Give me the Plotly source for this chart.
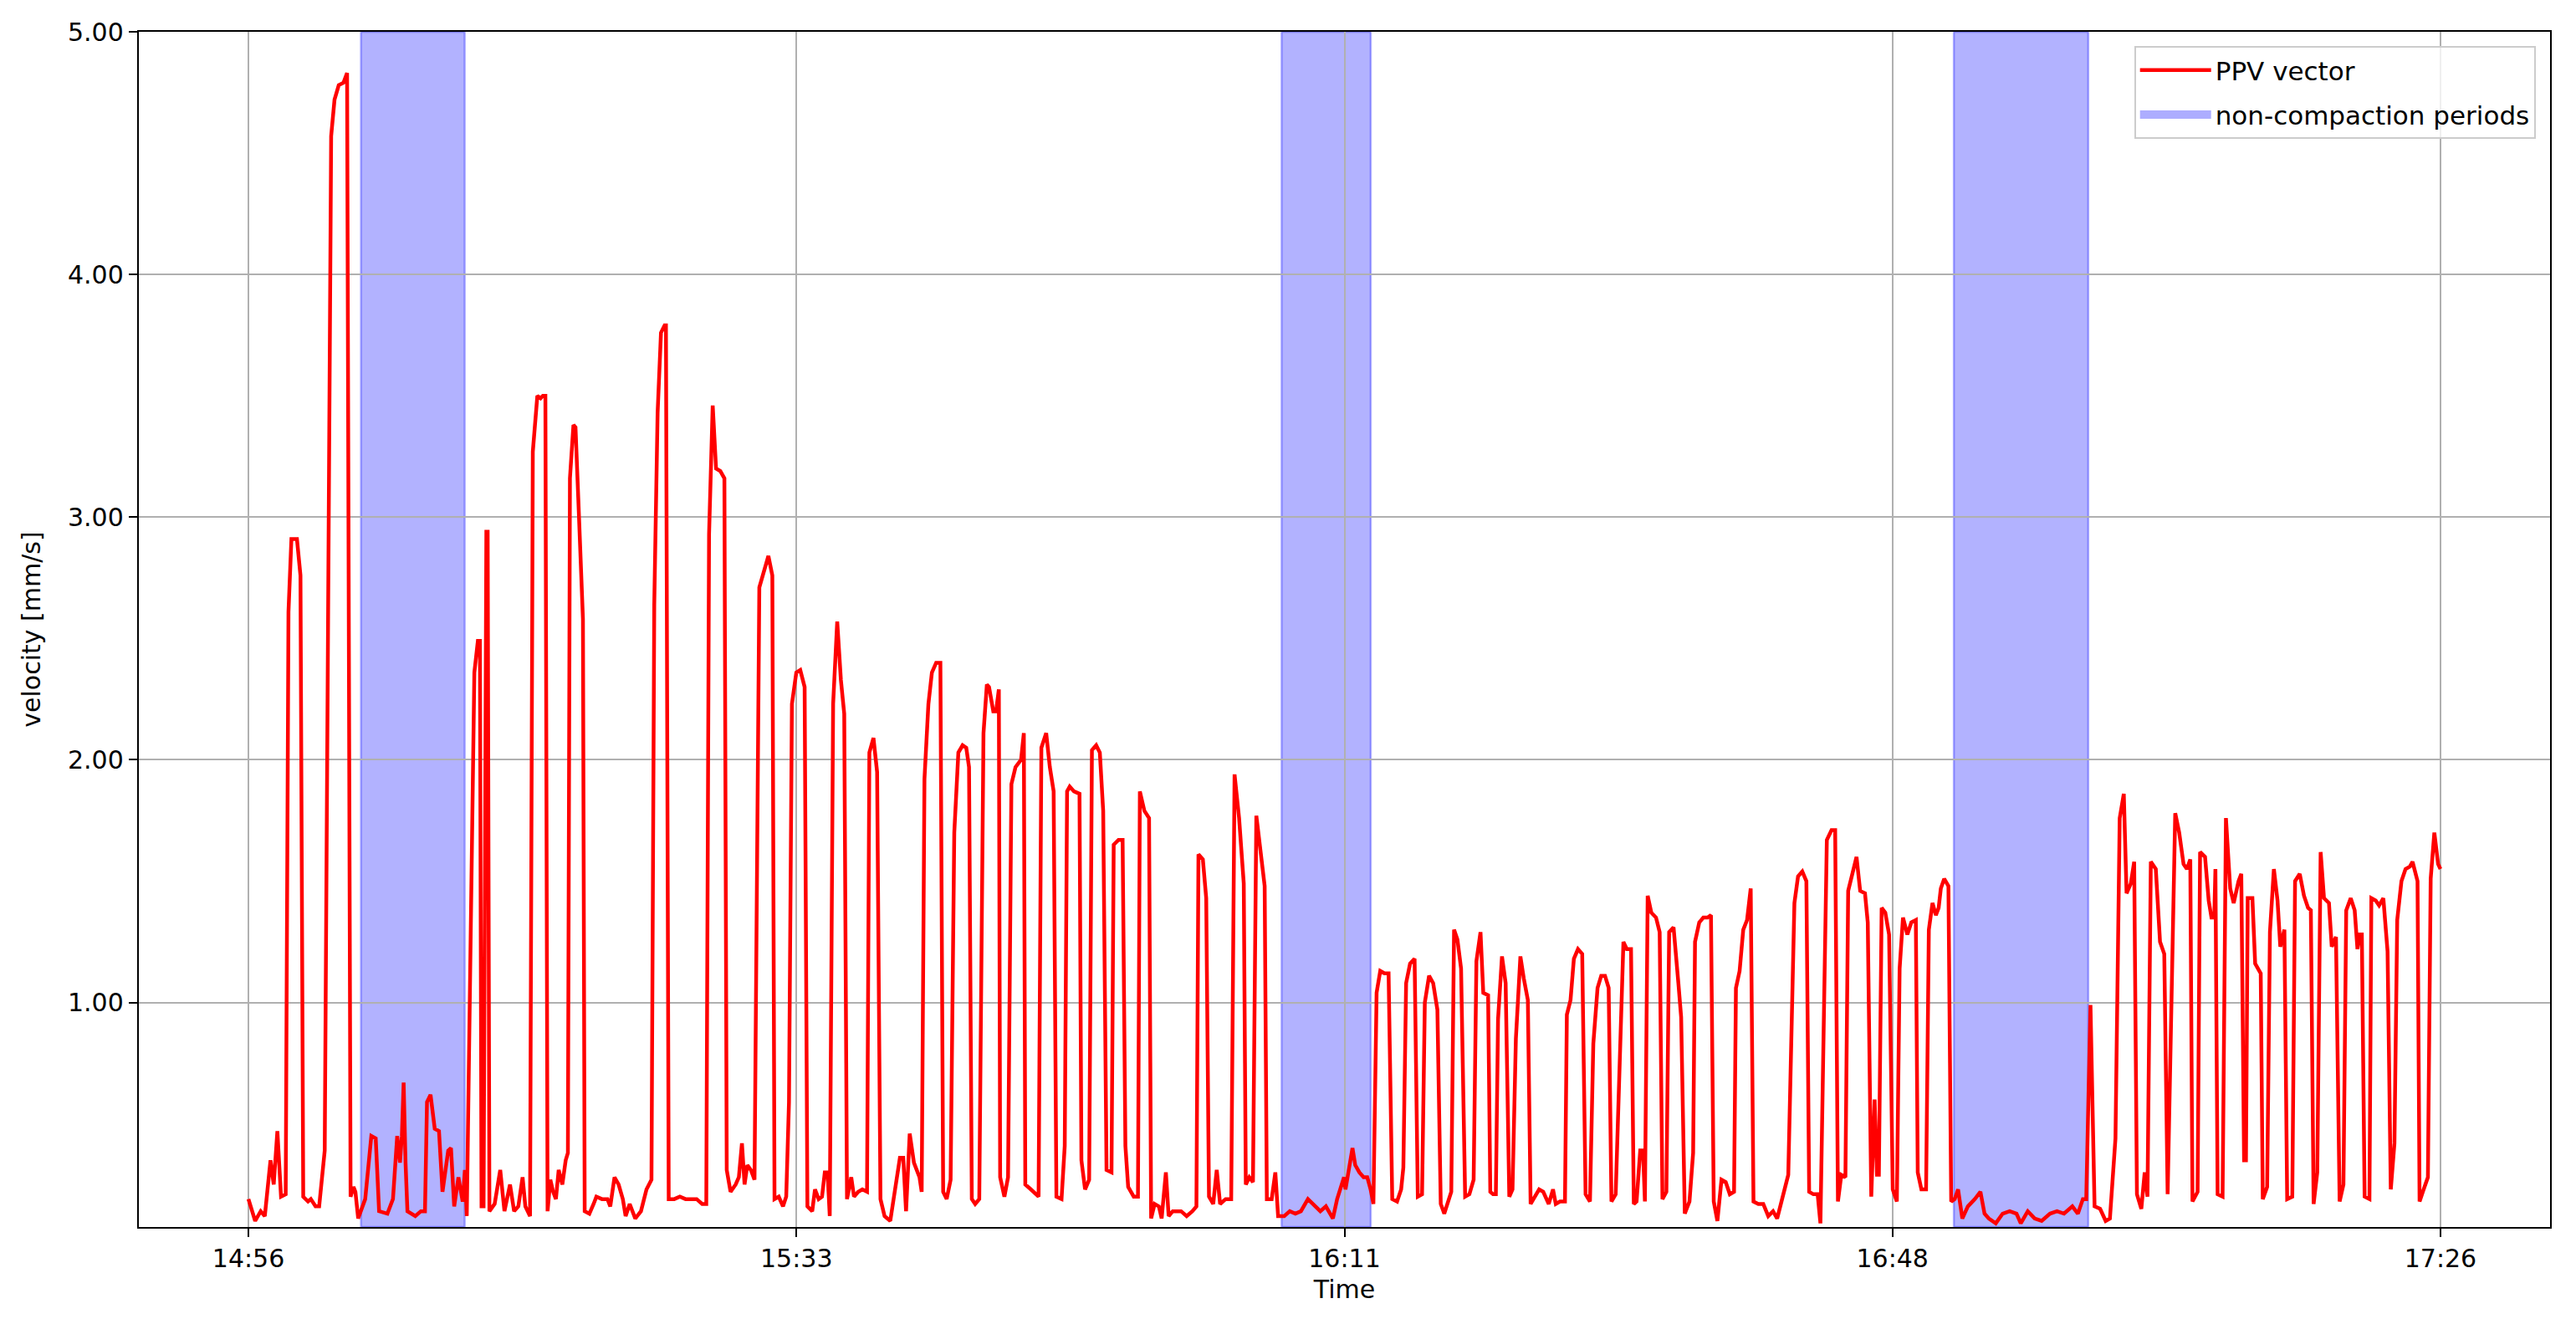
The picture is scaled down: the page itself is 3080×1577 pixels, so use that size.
import pandas as pd
import plotly.graph_objects as go

# ---------------- data (minutes after 14:56, PPV in mm/s) ----------------
START = pd.Timestamp("2023-01-01 14:56:00")

minutes = [
    0.00, 0.46, 0.84, 1.12, 1.51, 1.73, 1.98, 2.23, 2.55, 2.74, 2.94, 3.32, 3.56, 3.75, 4.08, 4.27, 4.59, 4.84, 5.22,
    5.66, 5.89, 6.18, 6.50, 6.75, 6.99, 7.19, 7.32, 7.51, 7.99, 8.41, 8.71, 8.94, 9.51, 9.89, 10.18, 10.37, 10.50,
    10.62, 10.75, 10.88, 11.42, 11.80, 12.08, 12.22, 12.46, 12.75, 13.04, 13.28, 13.67, 13.86, 14.08, 14.37, 14.66,
    14.81, 14.94, 15.23, 15.46, 15.70, 15.84, 15.95, 16.09, 16.28, 16.37, 16.49, 16.85, 17.23, 17.52, 17.90, 18.18,
    18.47, 18.76, 18.95, 19.27, 19.46, 19.77, 19.99, 20.15, 20.32, 20.47, 20.66, 20.85, 21.04, 21.23, 21.48, 21.71,
    21.86, 22.00, 22.24, 22.38, 22.57, 22.76, 22.89, 23.01, 23.33, 23.62, 23.81, 24.19, 24.57, 24.76, 25.05, 25.33,
    25.62, 25.81, 26.09, 26.47, 26.86, 27.24, 27.58, 27.77, 28.00, 28.23, 28.48, 28.57, 28.76, 29.14, 29.52, 29.91,
    30.29, 30.67, 31.05, 31.33, 31.52, 31.77, 32.00, 32.29, 32.57, 32.73, 32.99, 33.34, 33.56, 33.77, 33.95, 34.14,
    34.38, 34.63, 34.96, 35.24, 35.58, 35.85, 36.00, 36.29, 36.58, 36.80, 36.99, 37.19,
    37.49, 37.76, 38.06, 38.25, 38.58, 38.77, 39.02, 39.25, 39.44, 39.63, 39.78, 40.01, 40.29, 40.54, 40.77, 40.96,
    41.25, 41.44, 41.72, 42.01, 42.33, 42.49, 42.77, 43.02, 43.25, 43.53, 43.92, 44.30, 44.58, 44.81, 45.00, 45.25,
    45.54, 45.92, 46.07, 46.26, 46.53, 46.77, 47.06, 47.35, 47.54, 47.78, 48.05, 48.30, 48.58, 48.87, 49.12, 49.31,
    49.50, 49.73, 50.01, 50.30, 50.53, 50.68, 50.97, 51.16, 51.35, 51.44, 51.73, 51.98, 52.21, 52.49, 52.87, 53.06,
    53.16, 53.54, 54.07, 54.26, 54.59, 54.84, 55.10, 55.29, 55.64, 55.86, 56.02,
    56.20, 56.49, 56.87, 57.00, 57.25, 57.53, 57.72, 58.01, 58.26, 58.49, 58.72, 59.06, 59.21, 59.54, 59.82, 60.01,
    60.20, 60.58, 60.87, 61.00, 61.31, 61.63, 61.77, 62.01, 62.30, 62.49, 62.78, 62.97, 63.25, 63.82, 64.20, 64.59,
    64.87, 65.01, 65.31, 65.54, 65.73, 66.02, 66.26, 66.49, 66.87, 67.25, 67.48, 67.79, 68.11, 68.25, 68.49, 68.74,
    68.97, 69.22, 69.54, 69.69, 70.02, 70.27, 70.46, 70.88, 71.26, 71.64, 72.02, 72.50, 72.97, 73.35, 73.73, 74.21,
    74.50, 74.97,
    75.07, 75.26, 75.55, 75.74, 76.02, 76.31, 76.56, 76.79, 76.98, 77.20, 77.45, 77.74, 78.02, 78.27, 78.60, 78.88,
    79.03, 79.22, 79.49, 79.80, 80.02, 80.31, 80.50, 80.79, 81.07, 81.36, 81.59, 81.83, 82.12, 82.31, 82.50, 82.73,
    82.98, 83.26, 83.55, 83.84, 84.03, 84.31, 84.50, 84.83, 84.98, 85.17, 85.36, 85.51, 85.78, 86.03, 86.28, 86.50,
    86.73, 87.04, 87.27, 87.55, 87.74, 88.03, 88.32, 88.60, 88.98, 89.27, 89.46, 89.75, 90.09, 90.22, 90.47, 90.70,
    90.98, 91.27, 91.50, 91.80, 92.03, 92.32, 92.57, 92.83, 93.08, 93.27, 93.56,
    94.09, 94.32, 94.61, 94.80, 94.99, 95.24, 95.43, 95.56, 95.75, 96.00, 96.32, 96.57, 96.76, 97.03, 97.22, 97.52,
    97.85, 98.04, 98.29, 98.61, 98.86, 98.99, 99.28, 99.56, 99.85, 100.08, 100.27, 100.52, 100.80, 101.09, 101.37,
    101.66, 101.79, 102.04, 102.29, 102.55, 102.80, 102.99, 103.32, 103.66, 104.00, 104.33, 104.61, 104.90, 105.37,
    105.79, 106.04, 106.33, 106.61, 106.80, 107.09, 107.38, 107.57, 108.01, 108.33, 108.58, 108.77, 109.00, 109.28,
    109.47, 109.76, 110.04, 110.29, 110.62, 110.81, 111.05, 111.28, 111.44, 111.57, 111.76, 112.01, 112.27, 112.52,
    112.80, 112.99, 113.22, 113.52, 113.79, 114.10, 114.23, 114.48, 114.80, 114.99, 115.24, 115.47, 115.66, 115.81,
    116.04, 116.33, 116.52, 116.76, 116.99, 117.28, 117.66, 118.14, 118.52, 118.80, 119.09, 119.57, 120.04, 120.52,
    120.99, 121.28, 121.76, 122.23, 122.71, 123.28, 123.76, 124.24, 124.81, 125.19, 125.53, 125.76, 126.05, 126.33,
    126.71, 127.09, 127.38, 127.76, 128.05, 128.33, 128.52, 128.81, 129.04, 129.23, 129.53, 129.76, 129.95, 130.18,
    130.52, 130.81, 131.10, 131.33,
    131.85, 132.12, 132.42, 132.65, 132.88, 133.03, 133.38, 133.55, 133.89, 134.14, 134.33, 134.52, 134.60, 134.75,
    135.09, 135.32, 135.61, 135.85, 136.18, 136.37, 136.56, 136.69, 136.81, 137.13, 137.32, 137.70, 137.84, 138.14,
    138.33, 138.60, 138.85, 139.04, 139.32, 139.51, 139.86, 140.05, 140.37, 140.66, 140.94, 141.13, 141.32, 141.57,
    141.80, 142.03, 142.37, 142.56, 142.85, 143.10, 143.36, 143.55, 143.86, 144.13, 144.32, 144.47, 144.62, 144.81,
    145.14, 145.27, 145.57, 145.80, 146.09, 146.38, 146.60, 146.85, 147.04, 147.33, 147.61, 147.90, 148.09, 148.43,
    148.57, 148.85, 149.14, 149.33, 149.58, 149.84, 150.00,
]

ppv = [
    0.19, 0.10, 0.14, 0.12, 0.35, 0.25, 0.47, 0.20, 0.21, 2.61, 2.91, 2.91, 2.76, 0.20, 0.18, 0.19, 0.16, 0.16, 0.39,
    4.57, 4.72, 4.78, 4.79, 4.83, 0.20, 0.24, 0.22, 0.11, 0.19, 0.45, 0.44, 0.14, 0.13, 0.19, 0.45, 0.34, 0.45,
    0.67, 0.34, 0.14, 0.12, 0.14, 0.14, 0.59, 0.62, 0.48, 0.47, 0.22, 0.39, 0.40, 0.16, 0.28, 0.18,
    0.31, 0.12, 1.42, 2.36, 2.49, 2.49, 0.16, 0.16, 2.94, 2.94, 0.14, 0.17, 0.31, 0.14, 0.25, 0.14,
    0.16, 0.28, 0.16, 0.12, 3.27, 3.50, 3.49, 3.50, 3.50, 0.14, 0.27, 0.22, 0.19, 0.31, 0.25, 0.35,
    0.38, 3.16, 3.38, 3.37, 3.08, 2.80, 2.58, 0.14, 0.13, 0.17, 0.20, 0.19, 0.19, 0.16, 0.28, 0.25,
    0.19, 0.12, 0.17, 0.11, 0.14, 0.23, 0.27, 2.64, 3.43, 3.76, 3.79, 3.79, 0.19, 0.19, 0.20, 0.19,
    0.19, 0.19, 0.17, 0.17, 2.93, 3.46, 3.20, 3.19, 3.16, 0.31, 0.22, 0.25, 0.28, 0.42, 0.25, 0.33,
    0.31, 0.27, 2.71, 2.77, 2.84, 2.76, 0.19, 0.20, 0.16, 0.20, 0.59, 2.23,
    2.36, 2.37, 2.30, 0.16, 0.14, 0.23, 0.19, 0.20, 0.30, 0.30, 0.12, 2.23, 2.57, 2.33, 2.19, 0.19,
    0.28, 0.20, 0.22, 0.23, 0.22, 2.03, 2.09, 1.95, 0.19, 0.12, 0.10, 0.25, 0.36, 0.36, 0.14, 0.46,
    0.34, 0.28, 0.22, 1.92, 2.23, 2.36, 2.40, 2.40, 0.22, 0.19, 0.27, 1.70, 2.03, 2.06, 2.05, 1.97,
    0.19, 0.17, 0.19, 2.11, 2.31, 2.30, 2.20, 2.20, 2.29, 0.28, 0.20, 0.28, 1.90, 1.97, 2.00, 2.11,
    0.25, 0.23, 0.20, 2.05, 2.11, 1.97, 1.87, 0.20, 0.19, 0.41, 1.87,
    1.89, 1.87, 1.86, 0.35, 0.23, 0.27, 2.04, 2.06, 2.03, 1.79, 0.31, 0.30, 1.65, 1.67, 1.67, 0.41,
    0.24, 0.20, 0.20, 1.87, 1.79, 1.76, 0.11, 0.17, 0.16, 0.11, 0.30, 0.12, 0.14, 0.14, 0.12, 0.14,
    0.16, 1.61, 1.59, 1.43, 0.20, 0.17, 0.31, 0.17, 0.19, 0.19, 1.94, 1.76, 1.49, 0.25, 0.28, 0.26,
    1.77, 1.65, 1.48, 0.19, 0.19, 0.30, 0.12, 0.12, 0.14, 0.13, 0.14, 0.19, 0.16, 0.14, 0.16, 0.11,
    0.19, 0.28,
    0.23, 0.29, 0.40, 0.33, 0.30, 0.28, 0.28, 0.23, 0.17, 1.04, 1.13, 1.12, 1.12, 0.19, 0.18, 0.23,
    0.32, 1.08, 1.16, 1.18, 0.20, 0.21, 1.00, 1.11, 1.08, 0.97, 0.17, 0.13, 0.18, 0.22, 1.30, 1.26,
    1.14, 0.20, 0.21, 0.27, 1.17, 1.29, 1.04, 1.03, 0.22, 0.21, 0.21, 0.93, 1.19, 1.08, 0.20, 0.23,
    0.85, 1.19, 1.10, 1.01, 0.17, 0.20, 0.23, 0.22, 0.17, 0.23, 0.17, 0.18, 0.18, 0.95, 1.01, 1.18,
    1.22, 1.20, 0.21, 0.18, 0.83, 1.06, 1.11, 1.11, 1.06, 0.18, 0.21,
    1.25, 1.22, 1.22, 0.17, 0.18, 0.39, 0.39, 0.18, 1.44, 1.37, 1.35, 1.29, 0.19, 0.22, 1.29, 1.31,
    1.08, 0.94, 0.13, 0.18, 0.38, 1.25, 1.33, 1.35, 1.35, 1.36, 0.18, 0.10, 0.27, 0.26, 0.21,
    0.22, 1.06, 1.13, 1.30, 1.34, 1.47, 0.18, 0.17, 0.17, 0.12, 0.14, 0.11, 0.18, 0.29,
    1.41, 1.52, 1.54, 1.50, 0.22, 0.21, 0.21, 0.09, 1.67, 1.71, 1.71, 0.18, 0.29, 0.28,
    1.46, 1.54, 1.60, 1.46, 1.45, 1.33, 0.20, 0.60, 0.29, 0.29, 1.39, 1.37, 1.28, 0.23,
    0.18, 1.14, 1.35, 1.28, 1.33, 1.34, 0.30, 0.23, 0.23, 1.30, 1.41, 1.36, 1.39, 1.47,
    1.51, 1.48, 0.18, 0.19, 0.23, 0.11, 0.16, 0.19, 0.22, 0.13, 0.11, 0.09, 0.13, 0.14,
    0.13, 0.09, 0.14, 0.11, 0.10, 0.13, 0.14, 0.13, 0.16, 0.13, 0.19, 0.19, 0.99, 0.16,
    0.15, 0.10, 0.11, 0.44, 1.76, 1.86, 1.45, 1.49, 1.58, 0.21, 0.15, 0.30, 0.20, 1.58,
    1.55, 1.25, 1.20, 0.21,
    1.78, 1.70, 1.57, 1.55, 1.59, 0.18, 0.22, 1.62, 1.60, 1.42, 1.35, 1.35, 1.55, 0.21,
    0.20, 1.76, 1.47, 1.41, 1.50, 1.53, 0.35, 0.35, 1.43, 1.43, 1.16, 1.12, 0.19, 0.24,
    1.29, 1.55, 1.42, 1.23, 1.30, 0.19, 0.20, 1.50, 1.53, 1.44, 1.39, 1.38, 0.17, 0.30,
    1.62, 1.43, 1.41, 1.23, 1.27, 0.18, 0.25, 1.38, 1.43, 1.38, 1.22, 1.28, 1.28, 0.20,
    0.19, 1.43, 1.42, 1.40, 1.43, 1.21, 0.23, 0.42, 1.34, 1.50, 1.55, 1.56, 1.58, 1.50,
    0.18, 0.23, 0.28, 1.51, 1.70, 1.57, 1.55,
]

band_start_min = [7.7, 70.7, 116.7]
band_end_min = [14.8, 76.8, 125.9]

tick_min = [0, 37.5, 75, 112.5, 150]
tick_labels = ["14:56", "15:33", "16:11", "16:48", "17:26"]
y_ticks = [1.0, 2.0, 3.0, 4.0, 5.0]
Y_MIN, Y_MAX = 0.075, 5.0
X_PAD_MIN = 7.5

# ---------------- build ----------------
def to_time(m):
    return START + pd.to_timedelta(m, unit="min")

x = [to_time(m) for m in minutes]

FONT = dict(family="DejaVu Sans, Liberation Sans, sans-serif", size=30, color="#000000")
LEG_FONT = dict(family="DejaVu Sans, Liberation Sans, sans-serif", size=31, color="#000000")
BAND_FILL = "rgba(0,0,255,0.3)"
BAND_LINE = "rgba(0,0,255,0.3)"

fig = go.Figure()
fig.add_trace(go.Scatter(
    x=x, y=ppv, mode="lines", line=dict(color="#ff0000", width=4.5),
    name="PPV vector", legendrank=1, legendgroup="ppv",
))

# shaded periods (drawn below the grid, like matplotlib's axvspan)
for s, e in zip(band_start_min, band_end_min):
    fig.add_shape(
        type="rect", xref="x", yref="y domain",
        x0=to_time(s), x1=to_time(e), y0=0, y1=1,
        fillcolor=BAND_FILL, line=dict(color=BAND_LINE, width=2.5),
        layer="below",
    )

# legend entry for the shaded periods
fig.add_trace(go.Scatter(
    x=[None], y=[None], mode="lines",
    line=dict(color="rgba(0,0,255,0.32)", width=26),
    name="non-compaction periods", legendrank=2, legendgroup="bands",
    hoverinfo="skip",
))

axis_common = dict(
    showgrid=True, gridcolor="#b0b0b0", gridwidth=2.4,
    showline=True, linecolor="#000000", linewidth=2.4, mirror=True,
    ticks="outside", ticklen=10, tickwidth=2.4, tickcolor="#000000",
    zeroline=False, tickfont=FONT,
)

fig.update_layout(
    width=3072, height=1569,
    margin=dict(l=158, r=31, t=26, b=110),
    paper_bgcolor="white", plot_bgcolor="rgba(0,0,0,0)",
    font=FONT,
    showlegend=True,
    legend=dict(
        x=0.994, y=0.988, xanchor="right", yanchor="top",
        bgcolor="rgba(255,255,255,0.8)", bordercolor="#cccccc", borderwidth=2,
        font=LEG_FONT, itemwidth=85, traceorder="grouped", tracegroupgap=10,
    ),
    xaxis=dict(
        type="date",
        range=[to_time(tick_min[0] - X_PAD_MIN), to_time(tick_min[-1] + X_PAD_MIN)],
        tickvals=[to_time(t) for t in tick_min], ticktext=tick_labels,
        title=dict(text="Time", font=FONT, standoff=10),
        **axis_common,
    ),
    yaxis=dict(
        range=[Y_MIN, Y_MAX],
        tickvals=y_ticks, tickformat=".2f",
        title=dict(text="velocity [mm/s]", font=FONT, standoff=24),
        **axis_common,
    ),
)

fig.write_html("out.html")
